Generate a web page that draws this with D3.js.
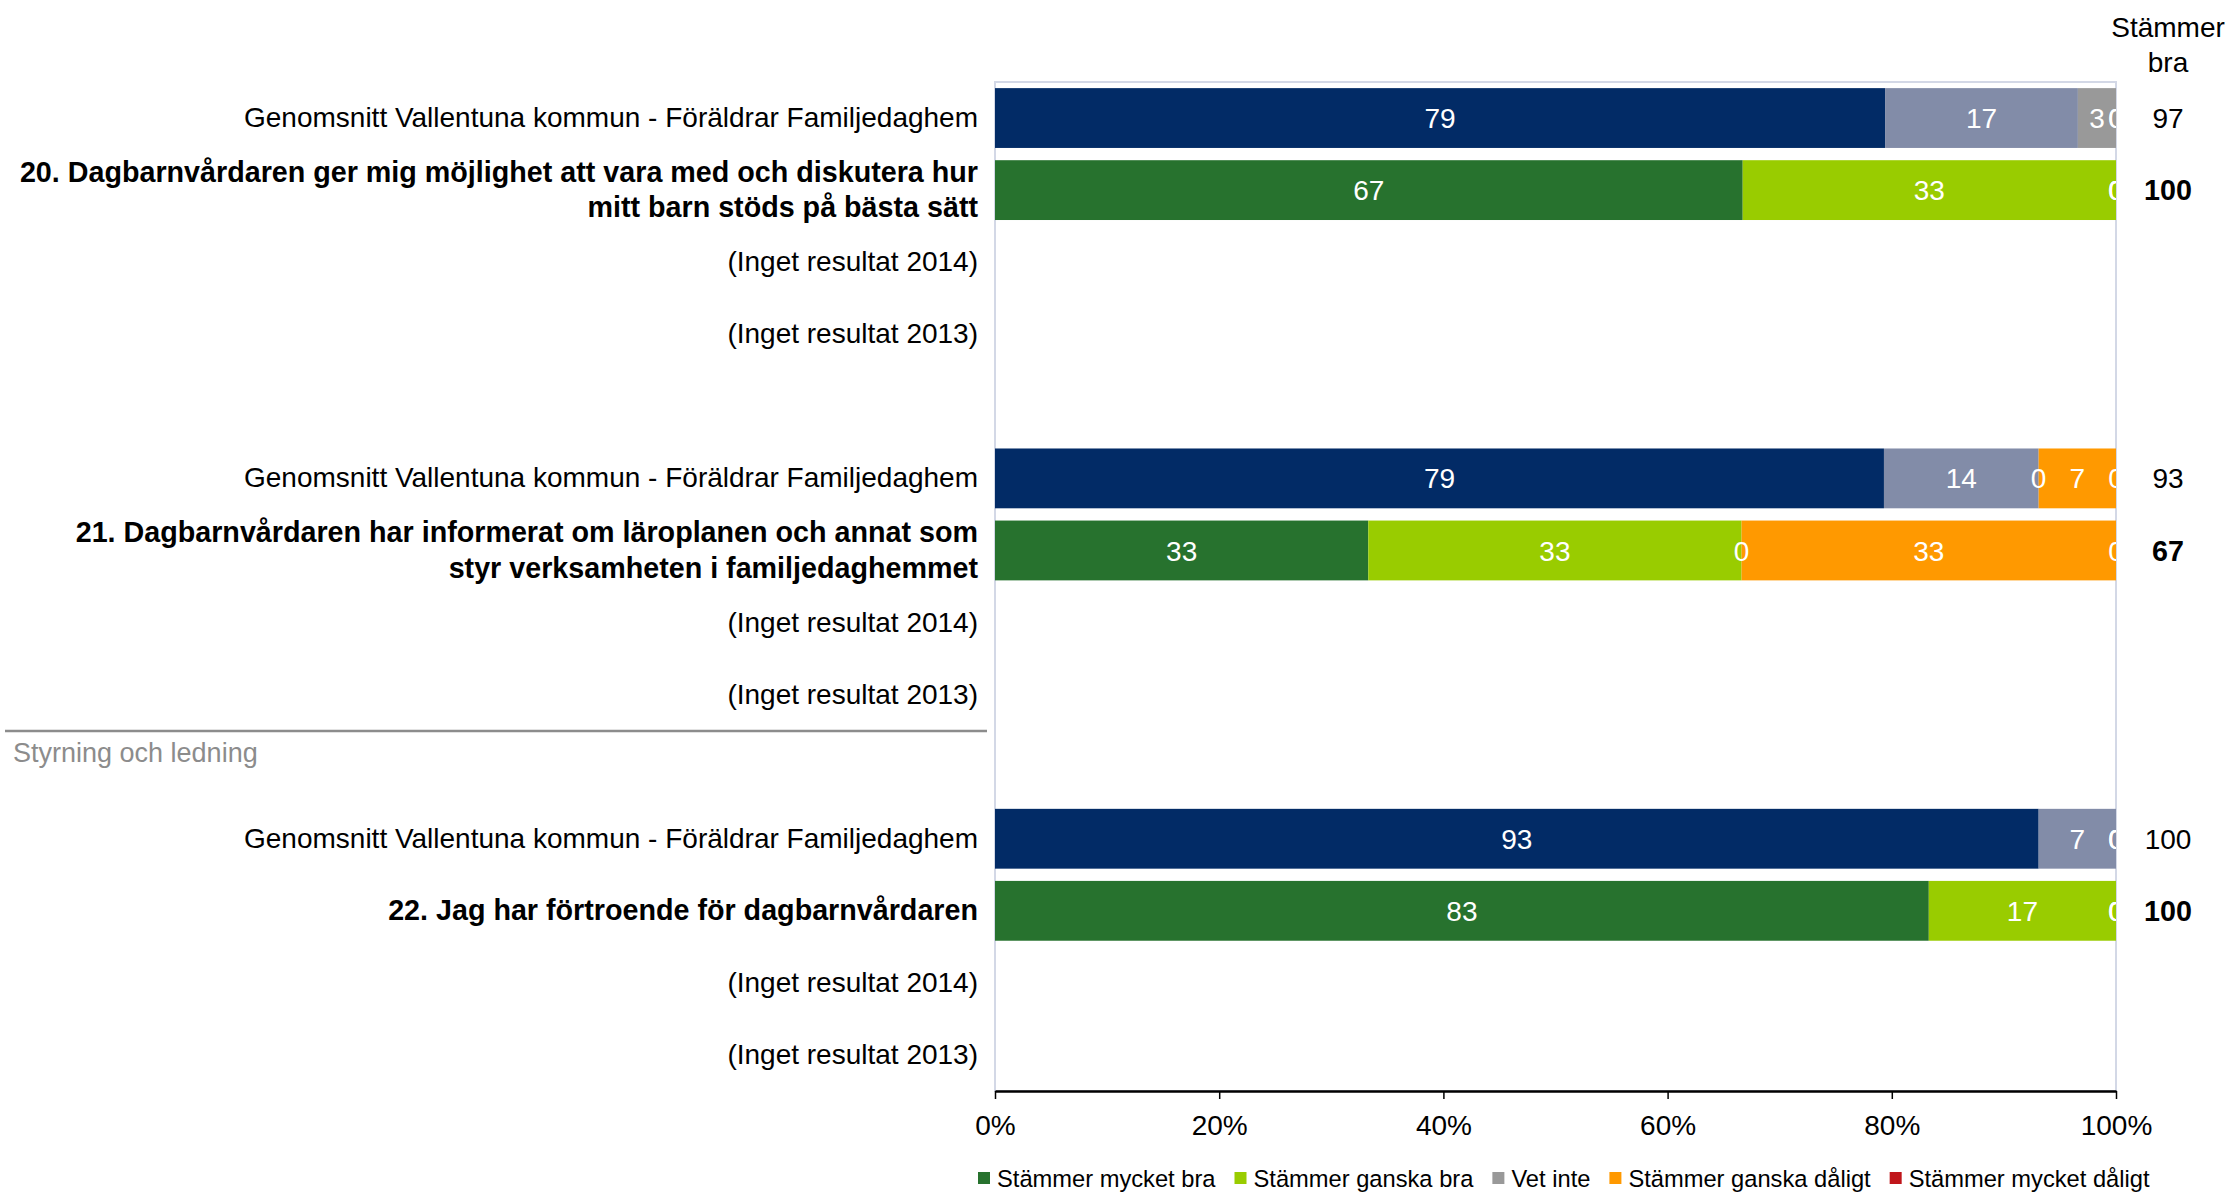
<!DOCTYPE html>
<html>
<head>
<meta charset="utf-8">
<script src="https://cdn.jsdelivr.net/npm/d3@7"></script>
<style>
  body { margin: 0; background: #fff; }
  svg text { font-family: "Liberation Sans", Arial, sans-serif; }
</style>
</head>
<body>
<div id="chart"></div>
<script>
// radetiketter, "|" = radbrytning
var rowLabels = [
  "Genomsnitt Vallentuna kommun - Föräldrar Familjedaghem",
  "20. Dagbarnvårdaren ger mig möjlighet att vara med och diskutera hur|mitt barn stöds på bästa sätt",
  "(Inget resultat 2014)",
  "(Inget resultat 2013)",
  "",
  "Genomsnitt Vallentuna kommun - Föräldrar Familjedaghem",
  "21. Dagbarnvårdaren har informerat om läroplanen och annat som|styr verksamheten i familjedaghemmet",
  "(Inget resultat 2014)",
  "(Inget resultat 2013)",
  "",
  "Genomsnitt Vallentuna kommun - Föräldrar Familjedaghem",
  "22. Jag har förtroende för dagbarnvårdaren",
  "(Inget resultat 2014)",
  "(Inget resultat 2013)"
];
// avg = kommungenomsnitt, q = fråga, none = inget resultat, gap = tom
var rowKind = ["avg","q","none","none","gap","avg","q","none","none","gap","avg","q","none","none"];

var mycketBra    = [79.4, 66.7, null, null, null, 79.3, 33.3, null, null, null, 93.1, 83.3, null, null];
var ganskaBra    = [17.2, 33.3, null, null, null, 13.8, 33.3, null, null, null,  6.9, 16.7, null, null];
var vetInte      = [ 3.4,  0,   null, null, null,  0,    0,   null, null, null,  0,    0,   null, null];
var ganskaDaligt = [ 0,    0,   null, null, null,  6.9, 33.4, null, null, null,  0,    0,   null, null];
var mycketDaligt = [ 0,    0,   null, null, null,  0,    0,   null, null, null,  0,    0,   null, null];
var stammerBra   = [97, 100, null, null, null, 93, 67, null, null, null, 100, 100, null, null];

var sectionTitle = "Styrning och ledning";

var seriesNames = ["Stämmer mycket bra","Stämmer ganska bra","Vet inte","Stämmer ganska dåligt","Stämmer mycket dåligt"];
var xTicks = [0, 20, 40, 60, 80, 100];

var qColors   = ["#27722e", "#99cc00", "#999999", "#ff9900", "#c0161b"];
var avgColors = ["#022b66", "#828ca8", "#999999", "#ff9900", "#c0161b"];

var W = 2230, H = 1193;
var pLeft = 995, pRight = 2116, pTop = 82, pBottom = 1091;
var fs = 28;
var fsBold = 28.7;

var svg = d3.select("#chart").append("svg")
    .attr("width", W)
    .attr("height", H);

var x = d3.scaleLinear().domain([0, 100]).range([pLeft, pRight]);
var y = d3.scaleBand()
    .domain(d3.range(rowLabels.length))
    .range([pTop, pBottom])
    .paddingInner(0.17)
    .paddingOuter(0.085);

// ram runt diagrammet
svg.append("rect")
    .attr("x", pLeft).attr("y", pTop)
    .attr("width", pRight - pLeft).attr("height", pBottom - pTop)
    .attr("fill", "none")
    .attr("stroke", "#d3d8e6")
    .attr("stroke-width", 2);

svg.append("defs").append("clipPath").attr("id", "plotclip")
  .append("rect")
    .attr("x", pLeft).attr("y", pTop)
    .attr("width", pRight - pLeft).attr("height", pBottom - pTop);

// staplar
var series = [mycketBra, ganskaBra, vetInte, ganskaDaligt, mycketDaligt];
var segs = [];
rowLabels.forEach(function(l, i) {
  if (mycketBra[i] == null) return;
  var acc = 0;
  series.forEach(function(s, k) {
    segs.push({row: i, k: k, x0: acc, x1: acc + s[i], v: s[i]});
    acc += s[i];
  });
});

svg.append("g").selectAll("rect")
    .data(segs.filter(d => d.v > 0))
    .enter()
    .append("rect")
    .attr("x", d => x(d.x0))
    .attr("y", d => y(d.row))
    .attr("width", d => x(d.x1) - x(d.x0))
    .attr("height", y.bandwidth())
    .attr("fill", d => rowKind[d.row] == "avg" ? avgColors[d.k] : qColors[d.k]);

// värden i staplarna
svg.append("g")
    .attr("clip-path", "url(#plotclip)")
    .selectAll("text")
    .data(segs)
    .enter()
    .append("text")
    .attr("x", d => x((d.x0 + d.x1) / 2))
    .attr("y", d => y(d.row) + y.bandwidth() / 2)
    .attr("dy", "0.36em")
    .attr("text-anchor", "middle")
    .attr("fill", "#fff")
    .attr("font-size", fs)
    .text(d => Math.round(d.v));

// radetiketter
var labG = svg.append("g");
rowLabels.forEach(function(l, i) {
  if (!l) return;
  var lines = l.split("|");
  var cy = y(i) + y.bandwidth() / 2;
  var t = labG.append("text")
      .attr("text-anchor", "end")
      .attr("font-size", rowKind[i] == "q" ? fsBold : fs)
      .attr("font-weight", rowKind[i] == "q" ? "bold" : "normal")
      .attr("fill", "#000");
  lines.forEach(function(line, j) {
    t.append("tspan")
      .attr("x", pLeft - 17)
      .attr("y", cy - 1 + (j - (lines.length - 1) / 2) * 35.5)
      .attr("dy", "0.36em")
      .text(line);
  });
});

// "Stämmer bra"-kolumn
var colX = 2168;
svg.append("text")
    .attr("x", colX).attr("y", 37)
    .attr("text-anchor", "middle")
    .attr("font-size", fs)
    .text("Stämmer");
svg.append("text")
    .attr("x", colX).attr("y", 72)
    .attr("text-anchor", "middle")
    .attr("font-size", fs)
    .text("bra");
svg.append("g").selectAll("text")
    .data(d3.range(rowLabels.length).filter(i => stammerBra[i] != null))
    .enter()
    .append("text")
    .attr("x", colX)
    .attr("y", i => y(i) + y.bandwidth() / 2)
    .attr("dy", "0.36em")
    .attr("text-anchor", "middle")
    .attr("font-size", i => rowKind[i] == "q" ? fsBold : fs)
    .attr("font-weight", i => rowKind[i] == "q" ? "bold" : "normal")
    .text(i => stammerBra[i]);

// avsnittsrubrik
svg.append("line")
    .attr("x1", 5).attr("x2", 987)
    .attr("y1", 731).attr("y2", 731)
    .attr("stroke", "#8c8c8c")
    .attr("stroke-width", 2.5);
svg.append("text")
    .attr("x", 13).attr("y", 762)
    .attr("font-size", 27)
    .attr("fill", "#8c8c8c")
    .text(sectionTitle);

// x-axel
var axis = svg.append("g")
    .attr("transform", "translate(0," + pBottom + ")")
    .call(d3.axisBottom(x)
      .tickValues(xTicks)
      .tickFormat(d => d + "%")
      .tickSize(8)
      .tickSizeOuter(0)
      .tickPadding(16));
axis.select(".domain").attr("stroke", "#000").attr("stroke-width", 2.5);
axis.selectAll(".tick line").attr("stroke", "#000").attr("stroke-width", 1.5);
axis.selectAll(".tick text")
    .attr("font-size", fs)
    .attr("font-family", "'Liberation Sans', Arial, sans-serif")
    .attr("fill", "#000");

// förklaring
var lg = svg.append("g").attr("transform", "translate(978,1172)");
var lx = 0;
seriesNames.forEach(function(n, k) {
  lg.append("rect")
    .attr("x", lx).attr("y", 0)
    .attr("width", 12).attr("height", 12)
    .attr("fill", qColors[k]);
  var t = lg.append("text")
    .attr("x", lx + 19).attr("y", 15)
    .attr("font-size", 23.7)
    .attr("fill", "#000")
    .text(n);
  lx += 19 + t.node().getComputedTextLength() + 19;
});
</script>
</body>
</html>
